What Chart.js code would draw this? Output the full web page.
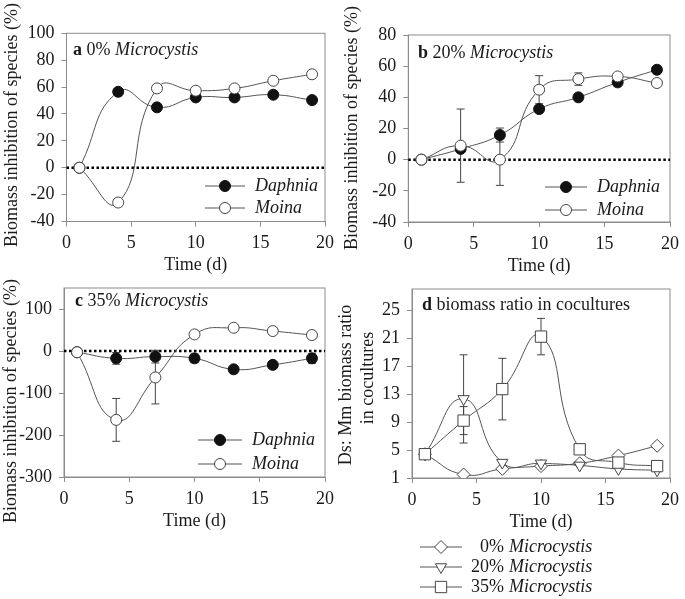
<!DOCTYPE html>
<html>
<head>
<meta charset="utf-8">
<script src="https://cdn.jsdelivr.net/npm/chart.js@4.4.0/dist/chart.umd.min.js"></script>
<style>
body{margin:0;background:#fff;}
#wrap{position:relative;width:685px;height:599px;overflow:hidden;}
canvas{position:absolute;}
</style>
</head>
<body>
<div id="wrap">
<canvas id="ca" width="340" height="280" style="left:0;top:0"></canvas>
<canvas id="cb" width="350" height="280" style="left:335px;top:0"></canvas>
<canvas id="cc" width="340" height="329" style="left:0;top:270px"></canvas>
<canvas id="cd" width="350" height="329" style="left:335px;top:270px"></canvas>
</div>
<script>
// sampling days
const days = [1,4,7,10,13,16,19]
const xTicks = [0,5,10,15,20]

// a  0% Microcystis
const aDaphnia = [0,56.5,44.9,52.3,52.3,54.3,50.3]
const aMoina = [0,-25.9,59,57.3,59,64.7,69.5]
const aTicks = [-40,-20,0,20,40,60,80,100]

// b  20% Microcystis
const bDaphnia = [0,6.9,15.8,32.5,40,49.6,57.7]
const bDaphniaErr = [0,0,4.5,0,0,0,0]
const bMoina = [0,9,0,44.9,51.7,53.4,49.2]
const bMoinaErr = [0,23.5,16.5,9,4,0,0]
const bTicks = [-40,-20,0,20,40,60,80]

// c  35% Microcystis
const cDaphnia = [-3,-17.5,-13.5,-17.5,-43.6,-33,-17.5]
const cDaphniaErr = [0,14,15,10,0,8,12]
const cMoina = [-3,-164,-63,39.5,55.3,47.5,38]
const cMoinaErr = [0,51,63,0,0,0,0]
const cTicks = [-300,-200,-100,0,100]

// d  Ds:Mm biomass ratio
const d0 = [4.4,1.5,2.3,2.7,3.1,4.2,5.6]
const d20 = [4.4,12.3,3.2,3.1,2.8,2.3,2.1]
const d20Err = [0,6.3,0,0,0,0,0]
const d35 = [4.4,9.2,13.7,21.2,5.1,3.2,2.7]
const d35Err = [0,2,4.4,2.6,0.6,0,0]
const dTicks = [1,5,9,13,17,21,25]

const FONT = '"Liberation Serif","Times New Roman",serif'
const TXT = '#1a1a1a'
const AXC = '#8c8c8c'
const LINEC = '#555'

function pts(ys){
return days.map((d,i)=>({x:d,y:ys[i]}))
}

const filled = {pointStyle:'circle',pointRadius:5.5,pointBackgroundColor:'#111',pointBorderColor:'#111'}
const open = {pointStyle:'circle',pointRadius:5.5,pointBackgroundColor:'#fff',pointBorderColor:'#444'}
const diamond = {pointStyle:'rectRot',pointRadius:6.5,pointBackgroundColor:'#fff',pointBorderColor:'#444'}
const triDown = {pointStyle:'triangle',pointRotation:180,pointRadius:6.5,pointBackgroundColor:'#fff',pointBorderColor:'#444'}
const square = {pointStyle:'rect',pointRadius:8,pointBackgroundColor:'#fff',pointBorderColor:'#444'}

function series(label,ys,errs,style,order){
return Object.assign({
label:label,
data:pts(ys),
errors:errs||null,
borderColor:LINEC,
borderWidth:1,
tension:0.5,
pointBorderWidth:1,
order:order
},style)
}

// box, zero line, error bars, texts, legend
const deco = {
id:'deco',
beforeDatasetsDraw(chart,args,o){
const {ctx,chartArea:ca,scales:{x,y}} = chart
ctx.save()
ctx.strokeStyle = AXC
ctx.lineWidth = 1
ctx.strokeRect(ca.left,ca.top,ca.right-ca.left,ca.bottom-ca.top)
if(o.zero){
let yy = y.getPixelForValue(0)
ctx.strokeStyle = '#000'
ctx.lineWidth = 2.5
ctx.setLineDash([2.5,2.5])
ctx.beginPath()
ctx.moveTo(ca.left,yy)
ctx.lineTo(ca.right,yy)
ctx.stroke()
ctx.setLineDash([])
}
ctx.strokeStyle = '#444'
ctx.lineWidth = 1
chart.data.datasets.forEach(ds=>{
if(!ds.errors) return
ds.data.forEach((p,j)=>{
let e = ds.errors[j]
if(!e) return
let px = x.getPixelForValue(p.x)
let y1 = y.getPixelForValue(p.y+e)
let y2 = y.getPixelForValue(p.y-e)
ctx.beginPath()
ctx.moveTo(px,y1); ctx.lineTo(px,y2)
ctx.moveTo(px-4,y1); ctx.lineTo(px+4,y1)
ctx.moveTo(px-4,y2); ctx.lineTo(px+4,y2)
ctx.stroke()
})
})
ctx.restore()
},
afterDraw(chart,args,o){
const ctx = chart.ctx
ctx.save()
ctx.fillStyle = TXT
ctx.textBaseline = 'middle'

// panel label
let lx = o.label.x
o.label.parts.forEach(p=>{
ctx.font = p[1]+' 18px '+FONT
ctx.textAlign = 'left'
ctx.fillText(p[0],lx,o.label.y)
lx += ctx.measureText(p[0]).width
})

// y title
ctx.font = '18px '+FONT
ctx.textAlign = 'center'
o.ytitle.forEach(t=>{
ctx.save()
ctx.translate(t.x,t.y)
ctx.rotate(-Math.PI/2)
ctx.fillText(t.text,0,0)
ctx.restore()
})

// legend from datasets
o.legend.forEach(it=>{
let ds = chart.data.datasets[it.ds]
ctx.strokeStyle = ds.borderColor
ctx.lineWidth = 1
ctx.beginPath()
ctx.moveTo(it.x1,it.y)
ctx.lineTo(it.x2,it.y)
ctx.stroke()
ctx.fillStyle = ds.pointBackgroundColor
ctx.strokeStyle = ds.pointBorderColor
Chart.helpers.drawPoint(ctx,{pointStyle:ds.pointStyle,radius:ds.pointRadius,rotation:ds.pointRotation||0,borderWidth:1},(it.x1+it.x2)/2,it.y)
ctx.fillStyle = TXT
if(o.splitLabel){
let sp = ds.label.indexOf(' ')
ctx.font = '18px '+FONT
ctx.textAlign = 'right'
ctx.fillText(ds.label.slice(0,sp),it.tx-5,it.y)
ctx.font = 'italic 18px '+FONT
ctx.textAlign = 'left'
ctx.fillText(ds.label.slice(sp+1),it.tx,it.y)
}else{
ctx.font = 'italic 18px '+FONT
ctx.textAlign = 'left'
ctx.fillText(ds.label,it.tx,it.y)
}
})
ctx.restore()
}
}

function makeChart(id,datasets,yMin,yMax,yTicks,lay,decoOpts){
return new Chart(document.getElementById(id),{
type:'line',
data:{datasets:datasets},
options:{
responsive:false,
animation:false,
layout:{padding:{top:lay.top,right:lay.right,left:0,bottom:0}},
plugins:{legend:{display:false},tooltip:{enabled:false},deco:decoOpts},
scales:{
x:{
type:'linear',min:0,max:20,
afterBuildTicks:s=>{s.ticks = xTicks.map(v=>({value:v}))},
afterFit:s=>{s.height = lay.xh},
grid:{drawOnChartArea:false,color:AXC,tickLength:5},
border:{color:AXC},
ticks:{font:{family:FONT,size:18},color:TXT,padding:6,maxRotation:0,autoSkip:false},
title:{display:true,text:'Time (d)',font:{family:FONT,size:18},color:TXT,padding:{top:0,bottom:lay.tpb}}
},
y:{
type:'linear',min:yMin,max:yMax,
afterBuildTicks:s=>{s.ticks = yTicks.map(v=>({value:v}))},
afterFit:s=>{s.width = lay.yw},
grid:{drawOnChartArea:false,color:AXC,tickLength:5},
border:{color:AXC},
ticks:{font:{family:FONT,size:18},color:TXT,padding:7,autoSkip:false}
}
}
},
plugins:[deco]
})
}

const yLab = 'Biomass inhibition of species (%)'

// a
makeChart('ca',[
series('Daphnia',aDaphnia,null,filled,1),
series('Moina',aMoina,null,open,0)
],-40,100,aTicks,{top:33.3,right:10,yw:66.5,xh:58.5,tpb:3.7},{
zero:true,
label:{x:73,y:50,parts:[['a','bold'],[' 0% ',''],['Microcystis','italic']]},
ytitle:[{text:yLab,x:12,y:125}],
legend:[{ds:0,x1:205,x2:245,tx:255,y:186},{ds:1,x1:205,x2:245,tx:255,y:208}]
})

// b
makeChart('cb',[
series('Daphnia',bDaphnia,bDaphniaErr,filled,1),
series('Moina',bMoina,bMoinaErr,open,0)
],-40,80,bTicks,{top:35,right:12,yw:73.3,xh:58,tpb:3.2},{
zero:true,
label:{x:83,y:53,parts:[['b','bold'],[' 20% ',''],['Microcystis','italic']]},
ytitle:[{text:yLab,x:17,y:128}],
legend:[{ds:0,x1:210,x2:252,tx:262,y:187},{ds:1,x1:210,x2:252,tx:262,y:210}]
})

// c
makeChart('cc',[
series('Daphnia',cDaphnia,cDaphniaErr,filled,1),
series('Moina',cMoina,cMoinaErr,open,0)
],-300,150,cTicks,{top:18,right:12,yw:64,xh:122,tpb:67.2},{
zero:true,
label:{x:75,y:31.7,parts:[['c','bold'],[' 35% ',''],['Microcystis','italic']]},
ytitle:[{text:yLab,x:11,y:131}],
legend:[{ds:0,x1:198,x2:242,tx:252,y:170},{ds:1,x1:198,x2:242,tx:252,y:194}]
})

// d
makeChart('cd',[
series('0% Microcystis',d0,null,diamond,2),
series('20% Microcystis',d20,d20Err,triDown,1),
series('35% Microcystis',d35,d35Err,square,0)
],1,28,dTicks,{top:19,right:11,yw:77,xh:121,tpb:66.2},{
zero:false,
splitLabel:true,
label:{x:87,y:35,parts:[['d','bold'],[' biomass ratio in cocultures','']]},
ytitle:[{text:'Ds: Mm biomass ratio',x:11.5,y:115},{text:'in cocultures',x:33,y:108}],
legend:[{ds:0,x1:85,x2:127,tx:174,y:277},{ds:1,x1:85,x2:127,tx:174,y:297},{ds:2,x1:85,x2:127,tx:174,y:317}]
})
</script>
</body>
</html>
